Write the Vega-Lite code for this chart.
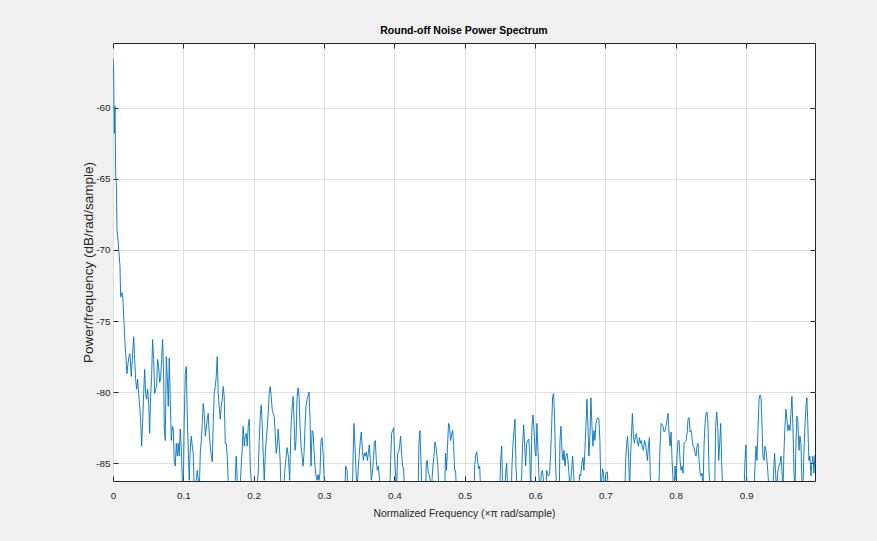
{
  "$schema": "https://vega.github.io/schema/vega-lite/v6.json",
  "autosize": {"type": "none"},
  "width": 702,
  "height": 438,
  "padding": {"left": 113, "top": 43, "right": 62, "bottom": 60},
  "background": "#f0f0f0",
  "title": {"text": "Round-off Noise Power Spectrum", "fontSize": 10.5, "fontWeight": "bold", "font": "Liberation Sans", "color": "#000000", "offset": 6, "anchor": "middle"},
  "config": {
    "view": {"fill": "#ffffff", "stroke": "#262626", "strokeWidth": 1},
    "axis": {"domain": false, "gridColor": "#dfdfdf", "gridWidth": 1, "tickColor": "#262626", "tickSize": -5, "tickWidth": 1, "labelFont": "Liberation Sans", "labelFontSize": 9.9, "labelColor": "#262626", "titleFont": "Liberation Sans", "titleFontSize": 10.4, "titleColor": "#262626", "titleFontWeight": "normal"}
  },
  "data": {"values": [
{"f":0,"p":-56.5},{"f":0.0009,"p":-57.5},{"f":0.0019,"p":-61.8},{"f":0.0028,"p":-59.9},{"f":0.0038,"p":-64.8},{"f":0.0047,"p":-65.3},{"f":0.0057,"p":-68.6},{"f":0.0071,"p":-69.3},{"f":0.0085,"p":-70.2},{"f":0.0099,"p":-71.1},{"f":0.0109,"p":-73.3},{"f":0.0128,"p":-73.0},{"f":0.0142,"p":-73.5},{"f":0.0156,"p":-75.1},{"f":0.0170,"p":-76.5},{"f":0.0185,"p":-77.7},{"f":0.0199,"p":-78.7},{"f":0.0213,"p":-78.0},{"f":0.0227,"p":-77.5},{"f":0.0241,"p":-77.3},{"f":0.0260,"p":-78.9},{"f":0.0279,"p":-77.3},{"f":0.0294,"p":-76.1},{"f":0.0308,"p":-77.7},{"f":0.0322,"p":-79.1},{"f":0.0336,"p":-79.8},{"f":0.0350,"p":-79.1},{"f":0.0365,"p":-80.1},{"f":0.0379,"p":-81.0},{"f":0.0393,"p":-81.9},{"f":0.0407,"p":-83.8},{"f":0.0421,"p":-82.2},{"f":0.0436,"p":-80.1},{"f":0.0450,"p":-78.4},{"f":0.0464,"p":-80.1},{"f":0.0478,"p":-80.5},{"f":0.0492,"p":-79.8},{"f":0.0507,"p":-80.8},{"f":0.0521,"p":-82.9},{"f":0.0535,"p":-80.3},{"f":0.0549,"p":-78.9},{"f":0.0563,"p":-76.3},{"f":0.0578,"p":-77.7},{"f":0.0592,"p":-80.1},{"f":0.0606,"p":-79.8},{"f":0.0620,"p":-79.6},{"f":0.0634,"p":-77.7},{"f":0.0649,"p":-78.2},{"f":0.0663,"p":-79.3},{"f":0.0677,"p":-79.1},{"f":0.0691,"p":-77.7},{"f":0.0705,"p":-76.3},{"f":0.0720,"p":-78.7},{"f":0.0729,"p":-82.6},{"f":0.0743,"p":-83.4},{"f":0.0758,"p":-77.5},{"f":0.0772,"p":-78.9},{"f":0.0786,"p":-81.0},{"f":0.0800,"p":-77.6},{"f":0.0814,"p":-80.5},{"f":0.0829,"p":-83.4},{"f":0.0843,"p":-82.4},{"f":0.0857,"p":-82.6},{"f":0.0871,"p":-84.9},{"f":0.0885,"p":-85.2},{"f":0.0900,"p":-83.6},{"f":0.0914,"p":-84.5},{"f":0.0928,"p":-83.6},{"f":0.0942,"p":-84.5},{"f":0.0956,"p":-82.6},{"f":0.0971,"p":-84.0},{"f":0.0985,"p":-86.2},{"f":0.0999,"p":-87.0},{"f":0.1013,"p":-81.9},{"f":0.1027,"p":-78.7},{"f":0.1042,"p":-78.2},{"f":0.1056,"p":-81.7},{"f":0.1070,"p":-84.0},{"f":0.1084,"p":-86.2},{"f":0.1098,"p":-84.0},{"f":0.1113,"p":-83.1},{"f":0.1127,"p":-83.8},{"f":0.1141,"p":-84.3},{"f":0.1155,"p":-87.0},{"f":0.1170,"p":-87.5},{"f":0.1184,"p":-86.2},{"f":0.1198,"p":-85.5},{"f":0.1212,"p":-86.2},{"f":0.1226,"p":-87.0},{"f":0.1241,"p":-84.3},{"f":0.1255,"p":-83.4},{"f":0.1269,"p":-82.2},{"f":0.1283,"p":-80.8},{"f":0.1297,"p":-81.5},{"f":0.1312,"p":-83.1},{"f":0.1326,"p":-82.6},{"f":0.1340,"p":-81.9},{"f":0.1354,"p":-81.5},{"f":0.1368,"p":-82.9},{"f":0.1383,"p":-83.8},{"f":0.1397,"p":-84.5},{"f":0.1411,"p":-84.9},{"f":0.1425,"p":-82.2},{"f":0.1439,"p":-80.1},{"f":0.1454,"p":-79.6},{"f":0.1468,"p":-78.9},{"f":0.1482,"p":-77.5},{"f":0.1496,"p":-80.1},{"f":0.1510,"p":-81.0},{"f":0.1525,"p":-81.9},{"f":0.1539,"p":-81.0},{"f":0.1553,"p":-80.5},{"f":0.1567,"p":-79.6},{"f":0.1581,"p":-80.3},{"f":0.1596,"p":-83.6},{"f":0.1610,"p":-83.6},{"f":0.1624,"p":-84.5},{"f":0.1638,"p":-86.2},{"f":0.1652,"p":-87.5},{"f":0.1667,"p":-87.0},{"f":0.1681,"p":-86.5},{"f":0.1695,"p":-86.8},{"f":0.1709,"p":-88.0},{"f":0.1723,"p":-87.0},{"f":0.1738,"p":-86.2},{"f":0.1752,"p":-84.5},{"f":0.1766,"p":-86.2},{"f":0.1780,"p":-88.0},{"f":0.1795,"p":-87.5},{"f":0.1809,"p":-86.5},{"f":0.1823,"p":-85.2},{"f":0.1837,"p":-84.0},{"f":0.1851,"p":-82.4},{"f":0.1866,"p":-83.8},{"f":0.1880,"p":-83.1},{"f":0.1894,"p":-82.9},{"f":0.1908,"p":-83.8},{"f":0.1922,"p":-82.4},{"f":0.1937,"p":-81.9},{"f":0.1951,"p":-85.2},{"f":0.1965,"p":-86.2},{"f":0.1979,"p":-87.5},{"f":0.1993,"p":-88.0},{"f":0.2008,"p":-87.5},{"f":0.2022,"p":-88.0},{"f":0.2036,"p":-87.5},{"f":0.2050,"p":-86.5},{"f":0.2064,"p":-85.7},{"f":0.2079,"p":-83.4},{"f":0.2093,"p":-81.7},{"f":0.2107,"p":-80.9},{"f":0.2121,"p":-82.2},{"f":0.2135,"p":-84.3},{"f":0.2150,"p":-86.2},{"f":0.2164,"p":-84.5},{"f":0.2178,"p":-83.4},{"f":0.2192,"p":-82.6},{"f":0.2206,"p":-81.5},{"f":0.2221,"p":-80.1},{"f":0.2235,"p":-79.6},{"f":0.2249,"p":-80.3},{"f":0.2263,"p":-81.2},{"f":0.2277,"p":-81.5},{"f":0.2292,"p":-81.7},{"f":0.2306,"p":-82.9},{"f":0.2320,"p":-84.3},{"f":0.2334,"p":-83.8},{"f":0.2348,"p":-82.6},{"f":0.2363,"p":-83.6},{"f":0.2377,"p":-84.9},{"f":0.2391,"p":-87.5},{"f":0.2405,"p":-88.0},{"f":0.2420,"p":-87.5},{"f":0.2434,"p":-86.2},{"f":0.2448,"p":-85.2},
{"f":0.2474,"p":-83.9},{"f":0.2493,"p":-84.5},{"f":0.2512,"p":-86.2},{"f":0.2531,"p":-82.4},{"f":0.2545,"p":-81.2},{"f":0.2560,"p":-80.3},{"f":0.2574,"p":-81.9},{"f":0.2588,"p":-84.1},{"f":0.2602,"p":-83.4},{"f":0.2616,"p":-80.5},{"f":0.2631,"p":-79.7},{"f":0.2645,"p":-80.3},{"f":0.2659,"p":-82.4},{"f":0.2673,"p":-83.8},{"f":0.2688,"p":-84.5},{"f":0.2702,"p":-85.2},{"f":0.2716,"p":-84.3},{"f":0.2730,"p":-82.4},{"f":0.2744,"p":-81.0},{"f":0.2759,"p":-80.5},{"f":0.2773,"p":-80.3},{"f":0.2787,"p":-80.0},{"f":0.2801,"p":-81.9},{"f":0.2815,"p":-85.2},{"f":0.2830,"p":-82.7},{"f":0.2844,"p":-82.8},{"f":0.2858,"p":-84.1},{"f":0.2872,"p":-85.2},{"f":0.2886,"p":-85.9},{"f":0.2901,"p":-86.2},{"f":0.2915,"p":-85.8},{"f":0.2929,"p":-86.2},{"f":0.2943,"p":-85.7},{"f":0.2957,"p":-83.4},{"f":0.2972,"p":-83.2},{"f":0.2986,"p":-84.3},{"f":0.3000,"p":-85.8},{"f":0.3014,"p":-87.5},{"f":0.3071,"p":-88.5},{"f":0.3166,"p":-89.0},{"f":0.3260,"p":-88.0},{"f":0.3294,"p":-87.0},{"f":0.3308,"p":-85.2},{"f":0.3327,"p":-85.5},{"f":0.3341,"p":-87.5},{"f":0.3379,"p":-88.0},{"f":0.3402,"p":-87.5},{"f":0.3412,"p":-84.8},{"f":0.3426,"p":-82.2},{"f":0.3440,"p":-83.8},{"f":0.3455,"p":-85.5},{"f":0.3469,"p":-87.0},{"f":0.3488,"p":-85.2},{"f":0.3502,"p":-84.3},{"f":0.3516,"p":-83.4},{"f":0.3530,"p":-82.8},{"f":0.3545,"p":-84.1},{"f":0.3559,"p":-84.8},{"f":0.3573,"p":-84.3},{"f":0.3587,"p":-84.5},{"f":0.3601,"p":-84.2},{"f":0.3616,"p":-84.8},{"f":0.3630,"p":-84.3},{"f":0.3644,"p":-83.7},{"f":0.3658,"p":-84.8},{"f":0.3672,"p":-86.2},{"f":0.3687,"p":-85.7},{"f":0.3701,"p":-84.8},{"f":0.3715,"p":-83.6},{"f":0.3729,"p":-83.4},{"f":0.3743,"p":-84.8},{"f":0.3758,"p":-85.5},{"f":0.3772,"p":-85.2},{"f":0.3786,"p":-85.9},{"f":0.3800,"p":-87.5},{"f":0.3876,"p":-88.5},{"f":0.3933,"p":-87.5},{"f":0.3947,"p":-84.8},{"f":0.3961,"p":-82.9},{"f":0.3975,"p":-82.7},{"f":0.3990,"p":-82.5},{"f":0.4004,"p":-84.5},{"f":0.4018,"p":-85.9},{"f":0.4032,"p":-87.0},{"f":0.4046,"p":-84.3},{"f":0.4061,"p":-84.2},{"f":0.4075,"p":-83.8},{"f":0.4089,"p":-83.1},{"f":0.4103,"p":-84.3},{"f":0.4117,"p":-85.2},{"f":0.4132,"p":-85.4},{"f":0.4146,"p":-87.0},{"f":0.4231,"p":-88.5},{"f":0.4326,"p":-88.0},{"f":0.4340,"p":-86.5},{"f":0.4349,"p":-83.6},{"f":0.4364,"p":-82.7},{"f":0.4378,"p":-84.8},{"f":0.4392,"p":-87.0},{"f":0.4420,"p":-88.0},{"f":0.4444,"p":-87.0},{"f":0.4454,"p":-85.0},{"f":0.4468,"p":-84.8},{"f":0.4482,"p":-85.7},{"f":0.4496,"p":-85.8},{"f":0.4510,"p":-86.2},{"f":0.4524,"p":-87.0},{"f":0.4548,"p":-85.2},{"f":0.4563,"p":-84.5},{"f":0.4577,"p":-83.5},{"f":0.4591,"p":-83.8},{"f":0.4605,"p":-84.5},{"f":0.4619,"p":-85.2},{"f":0.4634,"p":-87.0},{"f":0.4681,"p":-88.5},{"f":0.4714,"p":-87.0},{"f":0.4728,"p":-84.3},{"f":0.4742,"p":-85.5},{"f":0.4757,"p":-83.6},{"f":0.4771,"p":-82.2},{"f":0.4785,"p":-82.4},{"f":0.4799,"p":-83.4},{"f":0.4813,"p":-83.0},{"f":0.4828,"p":-82.7},{"f":0.4842,"p":-83.6},{"f":0.4856,"p":-85.5},{"f":0.4870,"p":-85.5},{"f":0.4884,"p":-87.0},{"f":0.4941,"p":-88.5},
{"f":0.5038,"p":-88.5},{"f":0.5133,"p":-87.0},{"f":0.5142,"p":-85.1},{"f":0.5156,"p":-84.5},{"f":0.5170,"p":-84.2},{"f":0.5185,"p":-84.9},{"f":0.5199,"p":-85.4},{"f":0.5213,"p":-85.2},{"f":0.5227,"p":-87.0},{"f":0.5369,"p":-88.5},{"f":0.5497,"p":-87.0},{"f":0.5511,"p":-84.8},{"f":0.5526,"p":-83.8},{"f":0.5540,"p":-87.0},{"f":0.5568,"p":-87.0},{"f":0.5582,"p":-85.7},{"f":0.5597,"p":-85.0},{"f":0.5611,"p":-87.0},{"f":0.5644,"p":-88.0},{"f":0.5663,"p":-87.0},{"f":0.5672,"p":-85.2},{"f":0.5687,"p":-83.6},{"f":0.5701,"p":-82.7},{"f":0.5715,"p":-81.9},{"f":0.5729,"p":-85.2},{"f":0.5743,"p":-87.0},{"f":0.5772,"p":-88.0},{"f":0.5795,"p":-87.0},{"f":0.5810,"p":-85.9},{"f":0.5824,"p":-83.6},{"f":0.5838,"p":-82.3},{"f":0.5852,"p":-83.6},{"f":0.5866,"p":-85.2},{"f":0.5881,"p":-83.6},{"f":0.5895,"p":-83.4},{"f":0.5909,"p":-83.3},{"f":0.5923,"p":-84.1},{"f":0.5938,"p":-87.0},{"f":0.5956,"p":-82.4},{"f":0.5971,"p":-81.6},{"f":0.5985,"p":-82.7},{"f":0.5999,"p":-84.1},{"f":0.6013,"p":-84.5},{"f":0.6027,"p":-82.2},{"f":0.6042,"p":-84.1},{"f":0.6056,"p":-85.9},{"f":0.6070,"p":-87.0},{"f":0.6089,"p":-85.8},{"f":0.6103,"p":-85.5},{"f":0.6117,"p":-86.0},{"f":0.6136,"p":-87.5},{"f":0.6155,"p":-87.0},{"f":0.6165,"p":-85.5},{"f":0.6179,"p":-85.8},{"f":0.6193,"p":-85.9},{"f":0.6207,"p":-85.7},{"f":0.6222,"p":-84.3},{"f":0.6236,"p":-82.4},{"f":0.6250,"p":-80.3},{"f":0.6264,"p":-80.1},{"f":0.6278,"p":-81.9},{"f":0.6293,"p":-85.2},{"f":0.6307,"p":-87.0},{"f":0.6330,"p":-88.0},{"f":0.6345,"p":-87.0},{"f":0.6354,"p":-83.4},{"f":0.6368,"p":-82.4},{"f":0.6383,"p":-84.1},{"f":0.6397,"p":-84.8},{"f":0.6411,"p":-84.1},{"f":0.6425,"p":-85.2},{"f":0.6439,"p":-84.5},{"f":0.6454,"p":-84.3},{"f":0.6468,"p":-84.8},{"f":0.6482,"p":-85.7},{"f":0.6496,"p":-87.0},{"f":0.6520,"p":-85.5},{"f":0.6534,"p":-84.5},{"f":0.6548,"p":-85.7},{"f":0.6563,"p":-87.0},{"f":0.6600,"p":-88.0},{"f":0.6624,"p":-87.0},{"f":0.6634,"p":-85.8},{"f":0.6648,"p":-85.9},{"f":0.6667,"p":-85.0},{"f":0.6681,"p":-84.6},{"f":0.6695,"p":-85.5},{"f":0.6709,"p":-84.1},{"f":0.6723,"p":-82.4},{"f":0.6738,"p":-80.5},{"f":0.6752,"p":-82.4},{"f":0.6766,"p":-84.5},{"f":0.6780,"p":-83.1},{"f":0.6794,"p":-80.4},{"f":0.6809,"p":-82.4},{"f":0.6823,"p":-83.8},{"f":0.6837,"p":-82.7},{"f":0.6851,"p":-83.4},{"f":0.6866,"p":-82.2},{"f":0.6880,"p":-81.9},{"f":0.6894,"p":-81.8},{"f":0.6908,"p":-81.9},{"f":0.6922,"p":-83.4},{"f":0.6937,"p":-87.0},{"f":0.6960,"p":-85.4},{"f":0.6974,"p":-85.7},{"f":0.6989,"p":-87.0},{"f":0.7008,"p":-85.7},{"f":0.7027,"p":-85.6},{"f":0.7041,"p":-87.0},{"f":0.7145,"p":-88.5},{"f":0.7263,"p":-87.5},{"f":0.7277,"p":-87.0},{"f":0.7287,"p":-85.0},{"f":0.7301,"p":-83.7},{"f":0.7315,"p":-83.1},{"f":0.7330,"p":-84.5},{"f":0.7344,"p":-87.0},{"f":0.7358,"p":-84.5},
{"f":0.7384,"p":-81.5},{"f":0.7399,"p":-83.1},{"f":0.7413,"p":-83.6},{"f":0.7427,"p":-83.1},{"f":0.7441,"p":-82.9},{"f":0.7455,"p":-83.5},{"f":0.7470,"p":-83.8},{"f":0.7484,"p":-83.2},{"f":0.7498,"p":-83.6},{"f":0.7512,"p":-83.4},{"f":0.7527,"p":-83.9},{"f":0.7541,"p":-84.1},{"f":0.7555,"p":-83.4},{"f":0.7569,"p":-83.6},{"f":0.7583,"p":-84.1},{"f":0.7598,"p":-84.8},{"f":0.7612,"p":-83.8},{"f":0.7626,"p":-83.2},{"f":0.7640,"p":-86.2},{"f":0.7654,"p":-87.0},{"f":0.7706,"p":-88.5},{"f":0.7749,"p":-87.0},{"f":0.7763,"p":-86.2},{"f":0.7777,"p":-83.8},{"f":0.7792,"p":-82.2},{"f":0.7806,"p":-82.3},{"f":0.7820,"p":-82.4},{"f":0.7834,"p":-82.8},{"f":0.7848,"p":-82.7},{"f":0.7863,"p":-82.4},{"f":0.7877,"p":-81.9},{"f":0.7891,"p":-81.5},{"f":0.7905,"p":-82.9},{"f":0.7920,"p":-83.8},{"f":0.7934,"p":-82.8},{"f":0.7948,"p":-84.8},{"f":0.7962,"p":-86.2},{"f":0.7976,"p":-87.0},{"f":0.7991,"p":-85.2},{"f":0.8005,"p":-86.2},{"f":0.8019,"p":-84.5},{"f":0.8033,"p":-83.4},{"f":0.8047,"p":-83.4},{"f":0.8062,"p":-84.8},{"f":0.8076,"p":-85.5},{"f":0.8090,"p":-85.2},{"f":0.8104,"p":-85.7},{"f":0.8118,"p":-83.6},{"f":0.8133,"p":-83.5},{"f":0.8147,"p":-83.4},{"f":0.8161,"p":-82.9},{"f":0.8175,"p":-81.9},{"f":0.8189,"p":-81.8},{"f":0.8204,"p":-82.8},{"f":0.8218,"p":-82.7},{"f":0.8232,"p":-83.2},{"f":0.8246,"p":-83.8},{"f":0.8260,"p":-83.9},{"f":0.8275,"p":-84.3},{"f":0.8289,"p":-84.5},{"f":0.8303,"p":-83.8},{"f":0.8317,"p":-83.6},{"f":0.8331,"p":-84.8},{"f":0.8346,"p":-85.7},{"f":0.8360,"p":-85.9},{"f":0.8374,"p":-85.7},{"f":0.8388,"p":-87.0},{"f":0.8402,"p":-83.8},{"f":0.8417,"p":-82.2},{"f":0.8431,"p":-81.5},{"f":0.8445,"p":-81.4},{"f":0.8459,"p":-82.2},{"f":0.8473,"p":-85.5},{"f":0.8488,"p":-87.0},{"f":0.8526,"p":-88.5},{"f":0.8554,"p":-87.0},{"f":0.8568,"p":-82.4},{"f":0.8582,"p":-81.4},{"f":0.8597,"p":-82.4},{"f":0.8611,"p":-84.8},{"f":0.8625,"p":-83.6},{"f":0.8639,"p":-82.2},{"f":0.8653,"p":-84.8},{"f":0.8668,"p":-87.0},{"f":0.8805,"p":-88.5},{"f":0.8971,"p":-87.0},{"f":0.8985,"p":-84.8},{"f":0.8999,"p":-83.7},{"f":0.9013,"p":-87.0},{"f":0.9065,"p":-88.5},{"f":0.9112,"p":-87.0},{"f":0.9127,"p":-85.2},{"f":0.9141,"p":-83.8},{"f":0.9155,"p":-84.8},{"f":0.9169,"p":-82.7},{"f":0.9184,"p":-80.5},{"f":0.9198,"p":-80.2},{"f":0.9212,"p":-80.3},{"f":0.9226,"p":-82.2},{"f":0.9240,"p":-84.5},{"f":0.9255,"p":-84.8},{"f":0.9269,"p":-83.8},{"f":0.9283,"p":-84.1},{"f":0.9297,"p":-84.8},{"f":0.9311,"p":-85.7},{"f":0.9326,"p":-87.0},{"f":0.9359,"p":-88.0},{"f":0.9382,"p":-87.0},{"f":0.9392,"p":-85.5},{"f":0.9406,"p":-84.3},{"f":0.9420,"p":-85.7},{"f":0.9434,"p":-87.0},{"f":0.9453,"p":-85.5},{"f":0.9468,"p":-85.2},{"f":0.9482,"p":-85.0},{"f":0.9496,"p":-84.5},{"f":0.9510,"p":-85.5},{"f":0.9524,"p":-87.0},{"f":0.9538,"p":-84.3},{"f":0.9553,"p":-82.4},{"f":0.9567,"p":-81.2},{"f":0.9581,"p":-81.9},{"f":0.9595,"p":-82.7},{"f":0.9610,"p":-82.3},{"f":0.9624,"p":-82.7},{"f":0.9638,"p":-81.5},{"f":0.9652,"p":-80.3},{"f":0.9666,"p":-82.4},{"f":0.9681,"p":-85.5},{"f":0.9695,"p":-87.0},{"f":0.9709,"p":-83.6},{"f":0.9723,"p":-81.7},{"f":0.9738,"p":-82.2},{"f":0.9752,"p":-84.1},{"f":0.9766,"p":-83.1},{"f":0.9780,"p":-83.6},{"f":0.9794,"p":-86.2},{"f":0.9808,"p":-87.0},{"f":0.9822,"p":-84.3},{"f":0.9837,"p":-82.4},{"f":0.9851,"p":-81.0},{"f":0.9865,"p":-80.4},{"f":0.9879,"p":-82.4},{"f":0.9893,"p":-84.8},{"f":0.9908,"p":-84.5},{"f":0.9922,"p":-85.9},{"f":0.9936,"p":-85.0},{"f":0.9950,"p":-84.5},{"f":0.9964,"p":-85.7},{"f":0.9980,"p":-84.4}
  ]},
  "layer": [
    {
      "mark": {"type": "line", "color": "#0072BD", "strokeWidth": 0.9, "clip": true, "interpolate": "linear"},
      "encoding": {
        "x": {"field": "f", "type": "quantitative", "title": "Normalized Frequency (×π rad/sample)",
          "scale": {"domain": [0, 0.998], "nice": false, "zero": false},
          "axis": {"orient": "bottom", "values": [0, 0.1, 0.2, 0.3, 0.4, 0.5, 0.6, 0.7, 0.8, 0.9], "format": "~g", "labelPadding": 14, "titlePadding": 9, "labelFlush": false}},
        "y": {"field": "p", "type": "quantitative", "title": "Power/frequency (dB/rad/sample)",
          "scale": {"domain": [-86.25, -55.45], "nice": false, "zero": false},
          "axis": {"orient": "left", "values": [-85, -80, -75, -70, -65, -60], "labelExpr": "'' + datum.value", "labelPadding": 8, "titlePadding": 0, "titleFontSize": 13.5, "labelFlush": false}}
      }
    },
    {
      "mark": {"type": "line", "strokeOpacity": 0, "clip": true},
      "encoding": {
        "x": {"field": "f", "type": "quantitative",
          "scale": {"domain": [0, 0.998], "nice": false, "zero": false},
          "axis": {"orient": "top", "values": [0, 0.1, 0.2, 0.3, 0.4, 0.5, 0.6, 0.7, 0.8, 0.9], "labels": false, "grid": false, "title": null}},
        "y": {"field": "p", "type": "quantitative",
          "scale": {"domain": [-86.25, -55.45], "nice": false, "zero": false},
          "axis": {"orient": "right", "values": [-85, -80, -75, -70, -65, -60], "labels": false, "grid": false, "title": null}}
      }
    }
  ],
  "resolve": {"axis": {"x": "independent", "y": "independent"}}
}
